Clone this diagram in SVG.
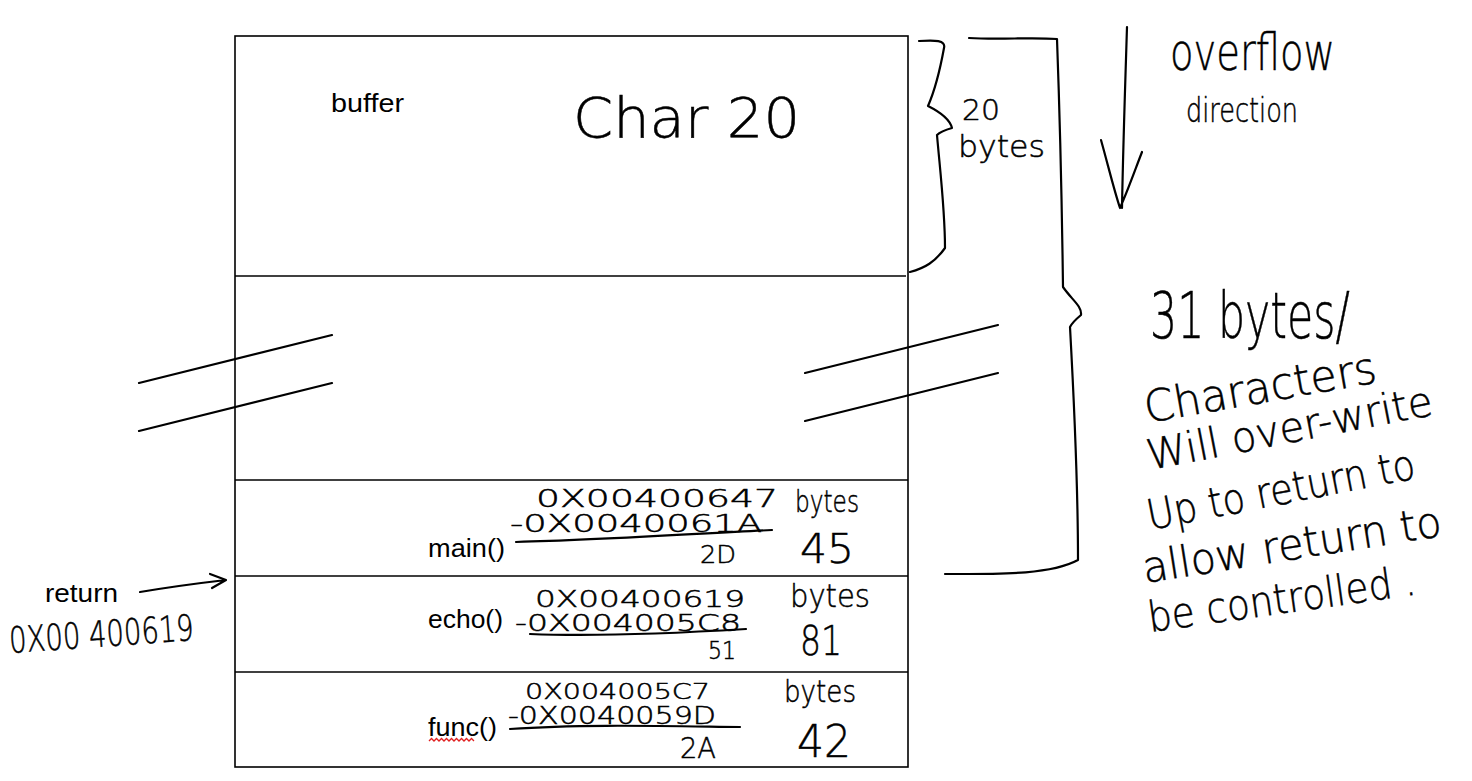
<svg xmlns="http://www.w3.org/2000/svg" width="1472" height="781" viewBox="0 0 1472 781">
<style>
.typed{font-family:"Liberation Sans",Arial,sans-serif;font-size:26px;fill:#000}
.hand{font-family:"DejaVu Sans","Liberation Sans",sans-serif;font-weight:200;fill:#000;stroke:#000;stroke-width:0.5}
.ln{stroke:#000;stroke-width:1.6;fill:none}
.pen{stroke:#000;stroke-width:2.2;fill:none;stroke-linecap:round;stroke-linejoin:round}
</style>
<rect width="1472" height="781" fill="#fff"/>
<g id="stack">
<rect x="235" y="36" width="673" height="731" class="ln"/>
<line x1="235" y1="276" x2="906" y2="276" class="ln"/>
<line x1="235" y1="480" x2="908" y2="480" class="ln"/>
<line x1="235" y1="576" x2="908" y2="576" class="ln"/>
<line x1="235" y1="672" x2="908" y2="672" class="ln"/>
</g>
<g id="breaks">
<line x1="139" y1="383" x2="332" y2="335" class="pen"/>
<line x1="139" y1="431" x2="332" y2="383" class="pen"/>
<line x1="805" y1="373" x2="998" y2="325" class="pen"/>
<line x1="805" y1="421" x2="998" y2="373" class="pen"/>
</g>
<g id="buffer">
<text class="typed" x="331" y="112" textLength="73" lengthAdjust="spacingAndGlyphs">buffer</text>
<text class="hand" x="573" y="137" font-size="56" textLength="227" lengthAdjust="spacingAndGlyphs">Char 20</text>
</g>
<g id="brace20">
<path class="pen" d="M919,41 C935,40 946,40 944,48 C940,70 935,90 928,106 C940,112 950,120 952,128 C945,130 940,132 937,135 C940,170 945,210 945,248 C935,262 925,268 910,272"/>
<text class="hand" x="962" y="120" font-size="28" textLength="38" lengthAdjust="spacingAndGlyphs">20</text>
<text class="hand" x="958" y="157" font-size="30" textLength="87" lengthAdjust="spacingAndGlyphs">bytes</text>
</g>
<g id="brace31">
<path class="pen" d="M969,38 C1000,40 1030,37 1057,39 C1060,120 1062,210 1063,287 C1072,300 1082,306 1081,315 C1075,320 1072,323 1070,327 C1074,400 1078,480 1078,560 C1050,575 1000,574 945,574"/>
</g>
<g id="overflow">
<path class="pen" d="M1127,27 C1125,90 1123,150 1122,208 M1101,140 C1108,165 1114,190 1120,208 C1128,190 1135,170 1142,152"/>
<text class="hand" x="1170" y="70" font-size="52" textLength="165" lengthAdjust="spacingAndGlyphs">overflow</text>
<text class="hand" x="1186" y="122" font-size="34" textLength="112" lengthAdjust="spacingAndGlyphs">direction</text>
</g>
<g id="note">
<text class="hand" x="1150" y="338" font-size="64" textLength="200" lengthAdjust="spacingAndGlyphs">31 bytes/</text>
<text class="hand" x="1147" y="423" font-size="44" textLength="235" lengthAdjust="spacingAndGlyphs" transform="rotate(-10 1147 423)">Characters</text>
<text class="hand" x="1150" y="470" font-size="42" textLength="290" lengthAdjust="spacingAndGlyphs" transform="rotate(-11 1150 470)">Will over-write</text>
<text class="hand" x="1150" y="530" font-size="42" textLength="272" lengthAdjust="spacingAndGlyphs" transform="rotate(-11 1150 530)">Up to return to</text>
<text class="hand" x="1145" y="583" font-size="43" textLength="302" lengthAdjust="spacingAndGlyphs" transform="rotate(-9 1145 583)">allow return to</text>
<text class="hand" x="1150" y="632" font-size="42" textLength="270" lengthAdjust="spacingAndGlyphs" transform="rotate(-8 1150 632)">be controlled .</text>
</g>
<g id="main">
<text class="typed" x="428" y="557" textLength="77" lengthAdjust="spacingAndGlyphs">main()</text>
<text class="hand" x="536" y="507" font-size="24" textLength="242" lengthAdjust="spacingAndGlyphs">0X00400647</text>
<text class="hand" x="510" y="532" font-size="24" textLength="252" lengthAdjust="spacingAndGlyphs">-0X0040061A</text>
<path class="pen" d="M516,542 C600,540 690,534 772,530"/>
<text class="hand" x="700" y="563" font-size="24" textLength="36" lengthAdjust="spacingAndGlyphs">2D</text>
<text class="hand" x="795" y="512" font-size="30" textLength="64" lengthAdjust="spacingAndGlyphs">bytes</text>
<text class="hand" x="800" y="563" font-size="40" textLength="54" lengthAdjust="spacingAndGlyphs">45</text>
</g>
<g id="echo">
<text class="typed" x="428" y="628" textLength="75" lengthAdjust="spacingAndGlyphs">echo()</text>
<text class="hand" x="535" y="607" font-size="23" textLength="210" lengthAdjust="spacingAndGlyphs">0X00400619</text>
<text class="hand" x="515" y="631" font-size="23" textLength="226" lengthAdjust="spacingAndGlyphs">-0X004005C8</text>
<path class="pen" d="M530,634 C600,637 680,633 746,629"/>
<text class="hand" x="708" y="659" font-size="24" textLength="28" lengthAdjust="spacingAndGlyphs">51</text>
<text class="hand" x="790" y="607" font-size="32" textLength="80" lengthAdjust="spacingAndGlyphs">bytes</text>
<text class="hand" x="800" y="655" font-size="40" textLength="42" lengthAdjust="spacingAndGlyphs">81</text>
</g>
<g id="func">
<text class="typed" x="428" y="736" textLength="69" lengthAdjust="spacingAndGlyphs">func()</text>
<path d="M429,741 l2.5,-2.5 l2.5,2.5 l2.5,-2.5 l2.5,2.5 l2.5,-2.5 l2.5,2.5 l2.5,-2.5 l2.5,2.5 l2.5,-2.5 l2.5,2.5 l2.5,-2.5 l2.5,2.5 l2.5,-2.5 l2.5,2.5 l2.5,-2.5 l2.5,2.5 l2.5,-2.5 l2.5,2.5" stroke="#e02020" stroke-width="1.3" fill="none"/>
<text class="hand" x="525" y="699" font-size="22" textLength="185" lengthAdjust="spacingAndGlyphs">0X004005C7</text>
<text class="hand" x="508" y="724" font-size="24" textLength="208" lengthAdjust="spacingAndGlyphs">-0X0040059D</text>
<path class="pen" d="M510,729 C580,724 660,726 740,727"/>
<text class="hand" x="680" y="758" font-size="28" textLength="36" lengthAdjust="spacingAndGlyphs">2A</text>
<text class="hand" x="784" y="702" font-size="30" textLength="72" lengthAdjust="spacingAndGlyphs">bytes</text>
<text class="hand" x="797" y="757" font-size="44" textLength="54" lengthAdjust="spacingAndGlyphs">42</text>
</g>
<g id="return">
<text class="typed" x="45" y="602" textLength="73" lengthAdjust="spacingAndGlyphs">return</text>
<text class="hand" x="10" y="653" font-size="36" textLength="185" lengthAdjust="spacingAndGlyphs" transform="rotate(-4 10 653)">0X00 400619</text>
</g>
<g id="connectors">
<path class="pen" d="M140,592 C170,587 200,583 226,580 M210,574 L226,580 L212,588"/>
</g>
</svg>
